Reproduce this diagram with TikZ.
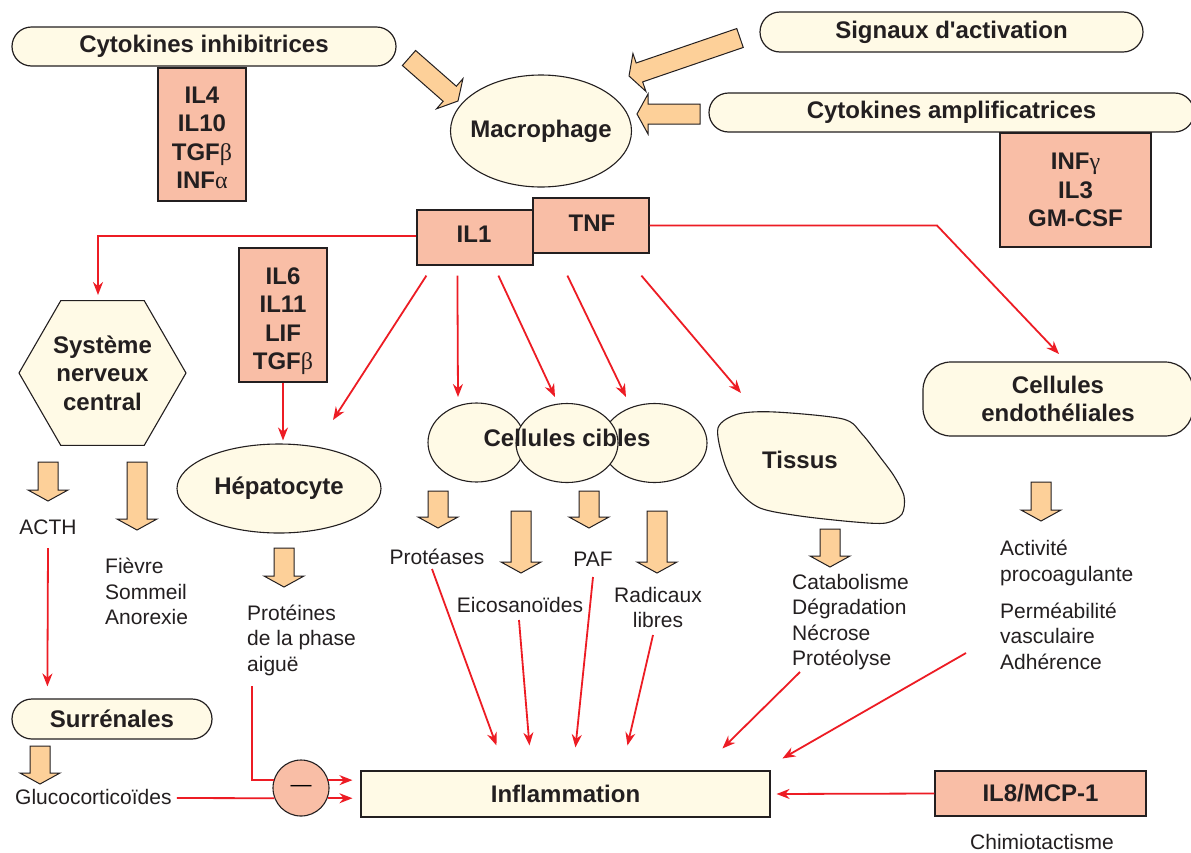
\documentclass[tikz,border=0pt]{standalone}
\usepackage{fontspec}
\setmainfont{Liberation Sans}[Ligatures=TeXOff]
\newfontfamily\grk{Liberation Serif}
\usetikzlibrary{shapes.geometric,arrows.meta,calc}
\definecolor{cream}{RGB}{255,250,230}
\definecolor{salmon}{RGB}{249,190,166}
\definecolor{orng}{RGB}{253,208,153}
\definecolor{ink}{RGB}{35,31,32}
\definecolor{rred}{RGB}{237,28,36}
\newcommand\barrow[2]{%
  \coordinate (bahd) at ($(#2)!11pt!(#1)$);
  \draw[blockarr] ($(#1)!10pt!90:(#2)$) -- ($(bahd)!10pt!90:(#2)$) -- ($(bahd)!20pt!90:(#2)$) -- (#2)
    -- ($(bahd)!20pt!-90:(#2)$) -- ($(bahd)!10pt!-90:(#2)$) -- ($(#1)!10pt!-90:(#2)$) -- cycle;}
\tikzset{
  bl/.style={font=\fontsize{24}{28.5}\selectfont\bfseries, text=ink},
  rg/.style={font=\fontsize{21}{25.5}\selectfont, text=ink, inner sep=0pt},
  pill/.style={draw=ink, line width=1.2pt, fill=cream, inner sep=0pt, bl},
  sbox/.style={draw=ink, line width=1.2pt, fill=salmon, inner sep=0pt, bl, align=center},
  cell/.style={draw=ink, line width=1.1pt, fill=cream, ellipse, inner sep=0pt},
  rarr/.style={draw=rred, line width=1.8pt, -{Stealth[length=13pt,width=10pt]}},
  rline/.style={draw=rred, line width=1.8pt},
  blockarr/.style={draw=ink, line width=1pt, fill=orng, line join=miter},
}
\begin{document}
\begin{tikzpicture}[x=1pt,y=-1pt]
\useasboundingbox (0,0) rectangle (1191,852);
\fill[white] (0,0) rectangle (1191,852);

% top row
\node[pill, minimum width=384pt, minimum height=39pt, rounded corners=19.5pt] (cinh) at (204,46.5) {Cytokines inhibitrices};
\node[sbox, minimum width=88pt, minimum height=133pt] (inhlist) at (202,134.5) {};
\node[bl, align=center, inner sep=0pt] (inhtxt) at (202,138) {IL4\\IL10\\TGF{\grk\mdseries β}\\INF{\grk\mdseries α}};
\node[pill, minimum width=383pt, minimum height=40pt, rounded corners=20pt] (sig) at (951.5,32) {Signaux d'activation};
\node[pill, minimum width=485pt, minimum height=39pt, rounded corners=19.5pt] (camp) at (951.5,112.5) {Cytokines amplificatrices};
\node[sbox, minimum width=151pt, minimum height=114pt] (amplist) at (1075.5,190) {INF{\grk\mdseries γ}\\IL3\\GM-CSF};
\node[cell, minimum width=181pt, minimum height=112pt] (mac) at (541,131) {};
\node[bl] (macl) at (mac) {Macrophage};
\node[sbox, minimum width=116pt, minimum height=55pt] (il1) at (475,237.5) {};
\node[bl] (il1t) at (474,234) {IL1};
\node[sbox, minimum width=116pt, minimum height=55pt] (tnf) at (591,225.5) {};
\node[bl] (tnft) at (592,223.5) {TNF};

% block arrows
\foreach \n/\a/\b/\c/\d in {ba/409/58/458/101, bb/740/38/629/76, bc/700/114/637/114,
  bd/48/462/48/501, be/137/462/137/530, bf/284/548/284/587, bg/40/746/40/784,
  bh/438/491/438/528, bi/521/511/521/573, bj/589/491/589/528, bk/657/511/657/573,
  bl/830/529/830/567, bm/1041/482/1041/521}{
  \coordinate (\n t) at (\a,\b);
  \coordinate (\n h) at (\c,\d);
  \barrow{\n t}{\n h}
}

% middle row
\node[draw=ink, line width=1.1pt, fill=cream, regular polygon, regular polygon sides=6, minimum size=167pt, inner sep=0pt, bl, align=center] (snc) at (102.5,373) {Système\\nerveux\\central};
\node[sbox, minimum width=88pt, minimum height=134pt] (il6) at (283,315) {};
\node[bl, align=center, inner sep=0pt] (il6t) at (283,321) {IL6\\IL11\\LIF\\TGF{\grk\mdseries β}};
\node[cell, minimum width=204pt, minimum height=89pt] (hep) at (279,488.5) {};
\node[bl] (hepl) at (hep) {Hépatocyte};
\node[cell, minimum width=97pt, minimum height=79pt] (cc1) at (476.5,442.5) {};
\node[cell, minimum width=105pt, minimum height=79pt] (cc3) at (654.5,443) {};
\node[cell, minimum width=102pt, minimum height=79pt] (cc2) at (567,443) {};
\node[bl] (ccl) at (567,438) {Cellules cibles};
\draw[draw=ink, line width=1.1pt, fill=cream] plot[smooth cycle, tension=0.5] coordinates
  {(718,428) (738,414) (775,412) (843,419) (862,434) (880,457) (894,476) (904,496) (902,514) (886,523) (855,522) (800,516) (760,508) (738,490) (724,462)};
\node[bl] (tis) at (800,460) {Tissus};
\node[pill, minimum width=270pt, minimum height=74pt, rounded corners=28pt, align=center] (endo) at (1058,399) {Cellules\\endothéliales};

% texts
\node[rg] (acth) at (48,527) {ACTH};
\node[rg, align=left, anchor=west] (fievre) at (105,591.5) {Fièvre\\Sommeil\\Anorexie};
\node[rg, align=left, anchor=west] (prot) at (247,640) {Protéines\\de la phase\\aiguë};
\node[rg] (protea) at (437,557) {Protéases};
\node[rg] (eico) at (520,605) {Eicosanoïdes};
\node[rg] (paf) at (593,559) {PAF};
\node[rg, align=center] (radic) at (658,607.5) {Radicaux\\libres};
\node[rg, align=left, anchor=west] (catab) at (792,622) {Catabolisme\\Dégradation\\Nécrose\\Protéolyse};
\node[rg, align=left, anchor=west] (activ) at (1000,563) {Activité\\procoagulante};
\node[rg, align=left, anchor=west] (perm) at (1000,636) {Perméabilité\\vasculaire\\Adhérence};
\node[rg, anchor=west] (gluco) at (15,797) {Glucocorticoïdes};
\node[rg] (chimio) at (1042,842) {Chimiotactisme};

% bottom row
\node[pill, minimum width=200pt, minimum height=40pt, rounded corners=20pt] (surr) at (112,719) {Surrénales};
\node[draw=ink, line width=1.1pt, fill=cream, minimum width=409pt, minimum height=46pt, inner sep=0pt, bl] (infl) at (565.5,794) {Inflammation};
\node[sbox, minimum width=211pt, minimum height=45pt] (il8) at (1040.5,793.5) {IL8/MCP-1};
\node[draw=ink, line width=1.1pt, fill=salmon, circle, minimum size=56pt, inner sep=0pt, font=\fontsize{21}{21}\selectfont] (minus) at (301,788) {—};

% red connectors
\coordinate (il1W) at ($(il1.west)+(0,-1.5)$);
\coordinate (sncCorner) at (98,236);
\coordinate (sncTip) at (98,295);
\draw[rarr] (il1W) -- (sncCorner) -- (sncTip);
\coordinate (hepR) at (333,420);
\draw[rarr] ($(il1.south west)+(10,10)$) -- (hepR);
\draw[rarr, shorten >=3pt] (il6.south) -- (il6.south |- hep.north);
\coordinate (cc1N) at (458,397);
\draw[rarr] ($(il1.south west)+(41,10)$) -- (cc1N);
\coordinate (cc2N) at (555,397);
\draw[rarr] ($(il1.south west)+(82,10)$) -- (cc2N);
\coordinate (cc3N) at (626,397);
\draw[rarr] ($(tnf.south west)+(35,22)$) -- (cc3N);
\coordinate (tisN) at (741,393);
\draw[rarr] ($(tnf.south west)+(109,22)$) -- (tisN);
\coordinate (tnfBend) at (937,225.5);
\coordinate (endoN) at (1059,354);
\draw[rarr] (tnf.east) -- (tnfBend) -- (endoN);

\draw[rarr] ($(protea.center)+(-5,12)$) -- ($(infl.north west)+(136,-25)$);
\draw[rarr] ($(eico.center)+(-1,15)$) -- ($(infl.north west)+(169,-25)$);
\draw[rarr] ($(paf.center)+(0,18)$) -- ($(infl.north west)+(215,-23)$);
\draw[rarr] ($(radic.center)+(-5,27.5)$) -- ($(infl.north west)+(267,-25)$);
\draw[rarr] ($(catab.west)+(8,50)$) -- ($(infl.north west)+(362,-22)$);
\draw[rarr] ($(perm.west)+(-34,17)$) -- ($(infl.north west)+(422,-12)$);
\draw[rarr] ($(acth.center)+(0,21)$) -- ($(surr.north west)+(36,-12)$);
\draw[rarr, shorten >=6pt] (il8.west) -- (infl.east);

\draw[rline] ($(prot.west)+(5,46)$) |- (minus.163.4);
\draw[rarr, shorten >=8pt] (minus.16.6) -- (minus.16.6 -| infl.west);
\draw[rline] ($(gluco.east)+(5,1)$) -- (minus.201);
\draw[rarr, shorten >=8pt] (minus.-21) -- (minus.-21 -| infl.west);
\end{tikzpicture}
\end{document}
